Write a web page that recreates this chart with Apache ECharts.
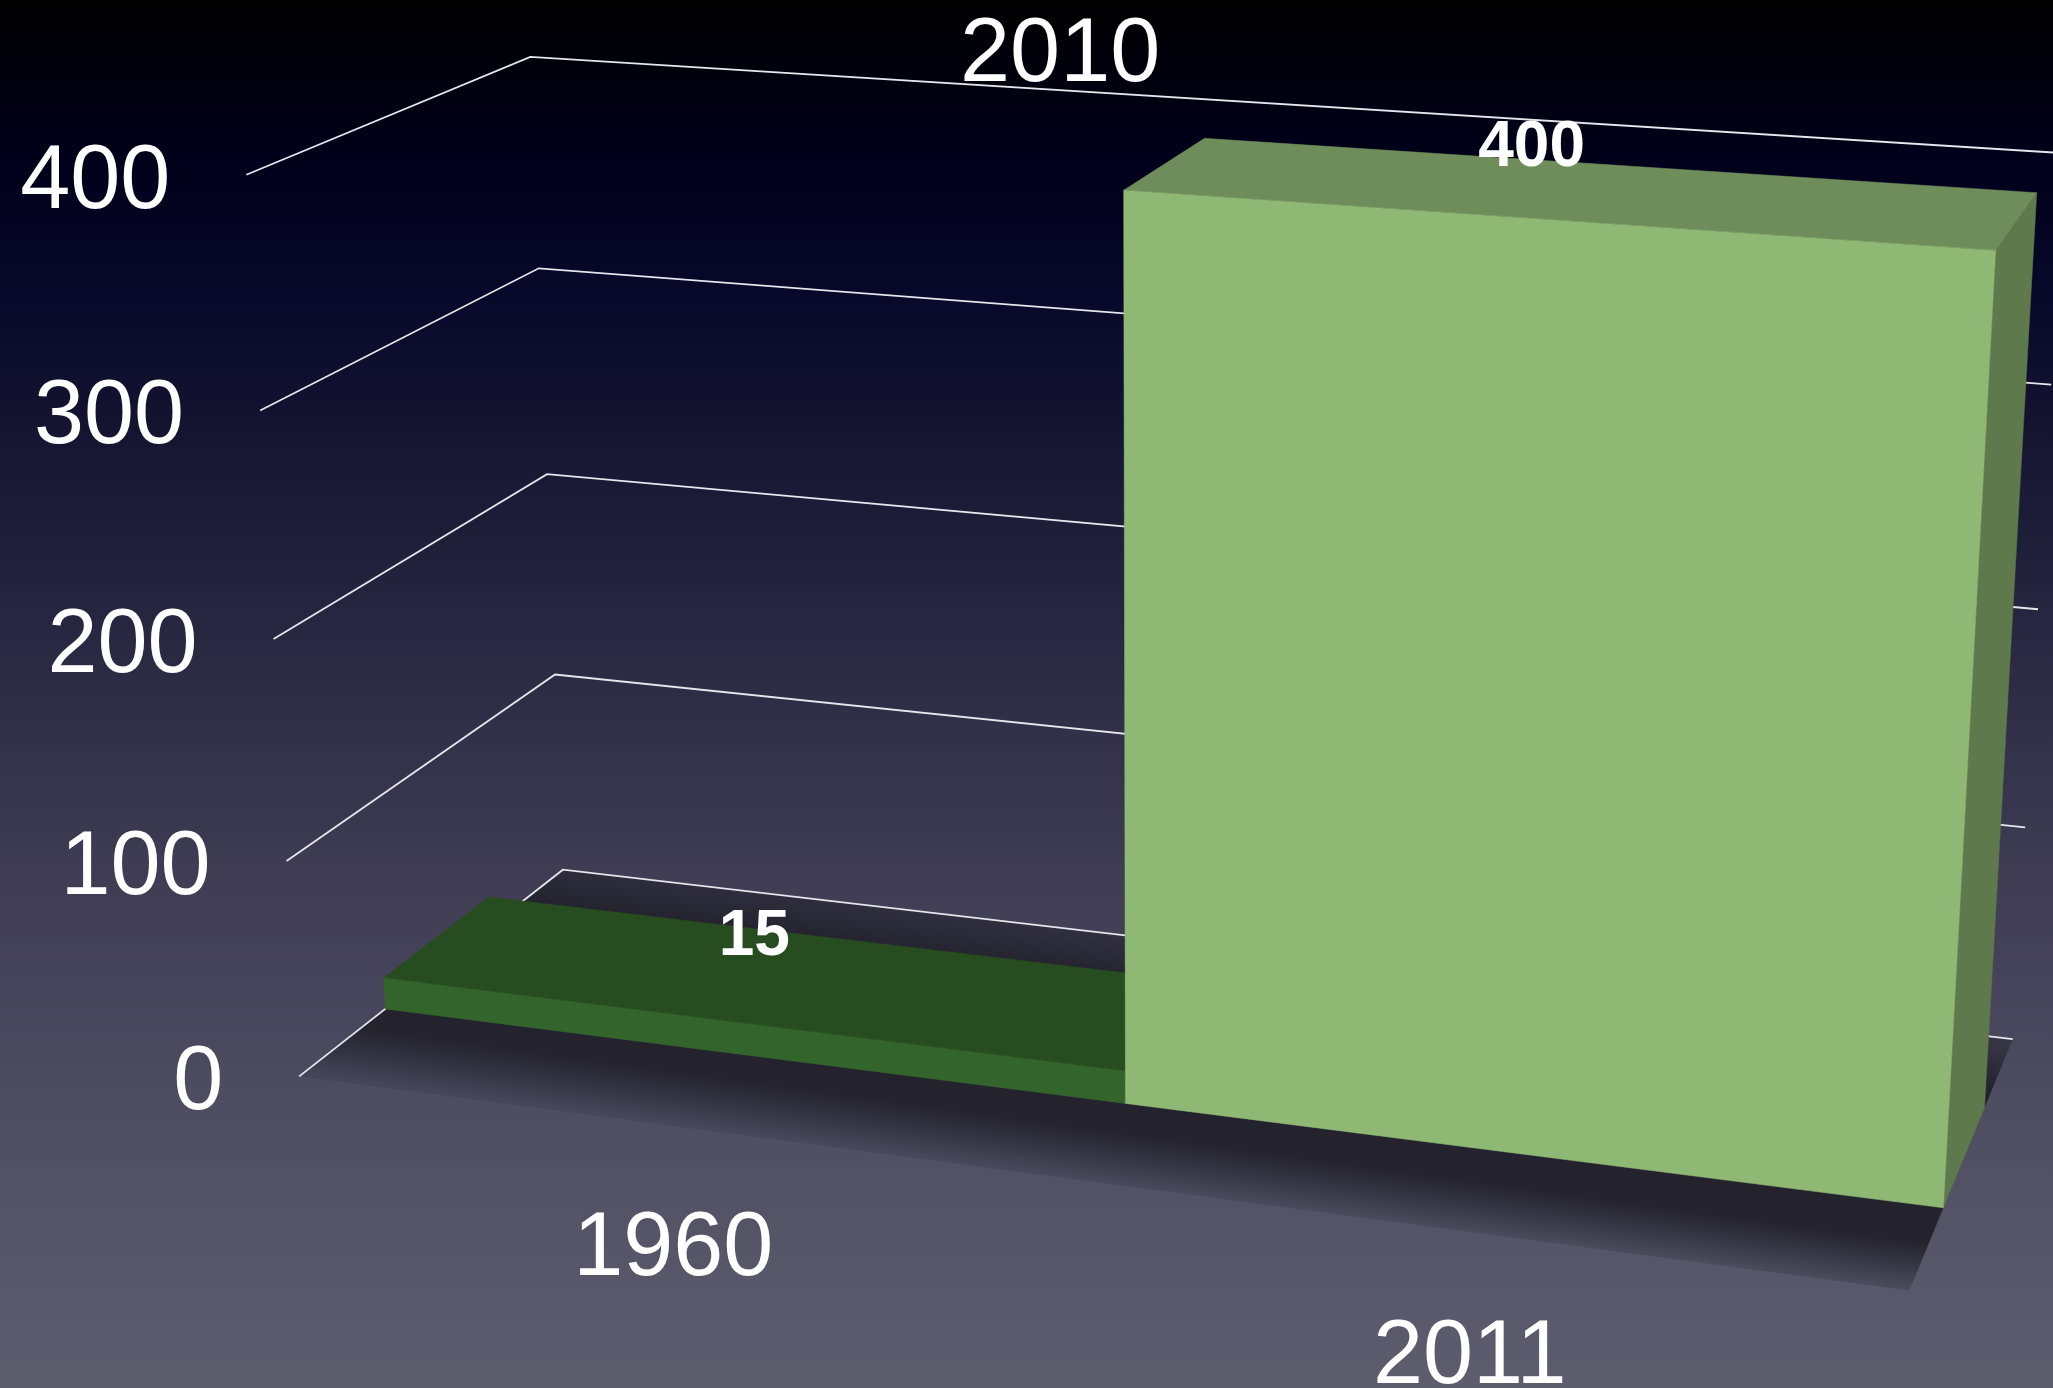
<!DOCTYPE html>
<html><head><meta charset="utf-8"><script src="https://cdn.jsdelivr.net/npm/echarts@6/dist/echarts.min.js"></script>
<style>html,body{margin:0;padding:0;overflow:hidden}#c{width:2053px;height:1388px}</style></head>
<body><div id="c"></div>
<script>
// data
const categories = ['1960', '2011'];
const values = [15, 400];
const valueTicks = [0, 100, 200, 300, 400];
const depthLabels = ['2010'];

// camera: model (X across the floor, V = value share, D = depth, bar front 0 .. bar back 1)
const CAMERA = [1373.2998, -64.913515, 127.02721, 385.26658, 84.053552, -880.45285, -40.201095, 1008.9012, -0.095118442, -0.056257362, 0.045293144];
const D_BACK = 1.749, D_FRONT = -0.7585;
const FONT = '"Liberation Sans", Arial, Helvetica, sans-serif';
const COLORS = {
  front: ['#33642c', '#8fb874'], top: ['#274c1f', '#6f8d5a'], side: ['#254a1c', '#5e794c'],
  line: '#e6e6ec', text: '#ffffff'
};
const BAR_LABEL_OFFSET = [[-38, -43], [-48, -43]];
const CATEGORY_LABEL_OFFSET = [[2, 124], [-5, 125]];

function project(X, V, D) {
  const p = CAMERA, w = p[8] * X + p[9] * V + p[10] * D + 1;
  return [(p[0] * X + p[1] * V + p[2] * D + p[3]) / w, (p[4] * X + p[5] * V + p[6] * D + p[7]) / w];
}
// through the chart's own axes: (category, band side -1..1, value) -> model X, V
function screen(params, api, cat, side, value, D) {
  const c = params.coordSys, pt = api.coord([cat, value]), band = api.size([1, 0])[0];
  const X = (pt[0] + side * band / 2 - c.x) / c.width;
  const V = 1 - (pt[1] - c.y) / c.height;
  return project(X, V, D);
}
function fade(from, to, stops, tilt) {
  // gradient running across the floor, about at right angles to the bars' front edge
  const a = project(0.5, 0, from), b = project(0.5, 0, to), e0 = project(0, 0, 0), e1 = project(1, 0, 0);
  let nx = -(e1[1] - e0[1]), ny = e1[0] - e0[0]; const n = Math.hypot(nx, ny); nx = nx / n - tilt; ny /= n;
  const t = ((b[0] - a[0]) * nx + (b[1] - a[1]) * ny) / (nx * nx + ny * ny);
  return { type: 'linear', global: true, x: a[0], y: a[1], x2: a[0] + nx * t, y2: a[1] + ny * t, colorStops: stops };
}
function floorBand(params, api, from, to, stops, tilt) {
  const pts = [screen(params, api, 0, -1, 0, from), screen(params, api, 1, 1, 0, from), screen(params, api, 1, 1, 0, to), screen(params, api, 0, -1, 0, to)];
  return { type: 'polygon', shape: { points: pts }, style: { fill: fade(from, to, stops, tilt || 0) } };
}

function renderFloor(params, api) {
  return { type: 'group', children: [
    floorBand(params, api, 1, D_BACK, [
      { offset: 0, color: 'rgba(34,33,44,1)' }, { offset: 0.3, color: 'rgba(34,33,44,1)' }, { offset: 1, color: 'rgba(34,33,44,0.5)' }]),
    floorBand(params, api, 1, 0, [
      { offset: 0, color: 'rgba(34,33,44,1)' }, { offset: 1, color: 'rgba(34,33,44,1)' }]),
    floorBand(params, api, 0, D_FRONT, [
      { offset: 0, color: 'rgba(35,34,45,1)' }, { offset: 0.36, color: 'rgba(36,35,46,1)' }, { offset: 1, color: 'rgba(36,35,46,0.16)' }], 0.01)
  ] };
}
function renderGrid(params, api) {
  const v = api.value(1), a = screen(params, api, 0, -1, v, D_FRONT), b = screen(params, api, 0, -1, v, D_BACK), c = screen(params, api, 1, 1, v, D_BACK);
  return { type: 'group', children: [
    { type: 'polyline', shape: { points: [a, b, c] }, style: { fill: 'none', stroke: COLORS.line, lineWidth: 1.8, lineJoin: 'miter' } },
    { type: 'text', style: { text: String(v), x: a[0] - 76, y: a[1] + 8, align: 'right', verticalAlign: 'middle', fill: COLORS.text, fontSize: 90, fontFamily: FONT } }
  ] };
}
function renderBar(params, api) {
  const i = api.value(0), v = api.value(1);
  const P = (side, val, D) => screen(params, api, i, side, val, D);
  const poly = (pts, fill) => ({ type: 'polygon', shape: { points: pts }, style: { fill, stroke: fill, lineWidth: 0.5 } });
  const anchor = P(0, v, 0.5), off = BAR_LABEL_OFFSET[i];
  const cat = screen(params, api, i, 0, 0, D_FRONT), catOff = CATEGORY_LABEL_OFFSET[i];
  return { type: 'group', children: [
    poly([P(1, 0, 0), P(1, 0, 1), P(1, v, 1), P(1, v, 0)], COLORS.side[i]),
    poly([P(-1, v, 0), P(1, v, 0), P(1, v, 1), P(-1, v, 1)], COLORS.top[i]),
    poly([P(-1, 0, 0), P(1, 0, 0), P(1, v, 0), P(-1, v, 0)], COLORS.front[i]),
    { type: 'text', style: { text: String(v), x: anchor[0] + off[0], y: anchor[1] + off[1], align: 'center', verticalAlign: 'middle', fill: COLORS.text, fontSize: 64, fontWeight: 'bold', fontFamily: FONT } },
    { type: 'text', style: { text: categories[i], x: cat[0] + catOff[0], y: cat[1] + catOff[1], align: 'center', verticalAlign: 'middle', fill: COLORS.text, fontSize: 90, fontFamily: FONT } }
  ] };
}
function renderDepth(params, api) {
  const c = params.coordSys, top = api.coord([0, 400]);
  const V = 1 - (top[1] - c.y) / c.height, a = project(0.5, V, D_BACK);
  return { type: 'text', style: { text: depthLabels[params.dataIndex], x: a[0] - 200, y: a[1] - 47, align: 'center', verticalAlign: 'middle', fill: COLORS.text, fontSize: 90, fontFamily: FONT } };
}

const chart = echarts.init(document.getElementById('c'), null, { renderer: 'canvas', width: 2053, height: 1388 });
chart.setOption({
  animation: false,
  backgroundColor: { type: 'linear', x: 0, y: 0, x2: 0, y2: 1, colorStops: [
    { offset: 0, color: '#000000' }, { offset: 0.05, color: '#00000c' }, { offset: 0.11, color: '#00001a' },
    { offset: 0.216, color: '#08082a' }, { offset: 0.3, color: '#131330' }, { offset: 0.43, color: '#25243e' },
    { offset: 0.54, color: '#33324a' }, { offset: 0.63, color: '#3f3c53' }, { offset: 0.79, color: '#4e4c61' }, { offset: 1, color: '#5e5d6e' } ] },
  grid: { left: 0, right: 0, top: 0, bottom: 0, show: false },
  xAxis: { type: 'category', data: categories, show: false, boundaryGap: true },
  yAxis: { type: 'value', min: 0, max: 400, interval: 100, show: false },
  tooltip: { show: false },
  series: [
    { type: 'custom', name: 'floor', clip: false, silent: true, z: 1, renderItem: renderFloor, data: [[0, 0]] },
    { type: 'custom', name: 'grid', clip: false, silent: true, z: 2, renderItem: renderGrid, data: valueTicks.map(v => [0, v]) },
    { type: 'custom', name: 'bars', clip: false, silent: true, z: 3, renderItem: renderBar, data: values.map((v, i) => [i, v]) },
    { type: 'custom', name: 'depth', clip: false, silent: true, z: 4, renderItem: renderDepth, data: depthLabels.map((d, i) => [i, 400]) }
  ]
});
</script></body></html>
